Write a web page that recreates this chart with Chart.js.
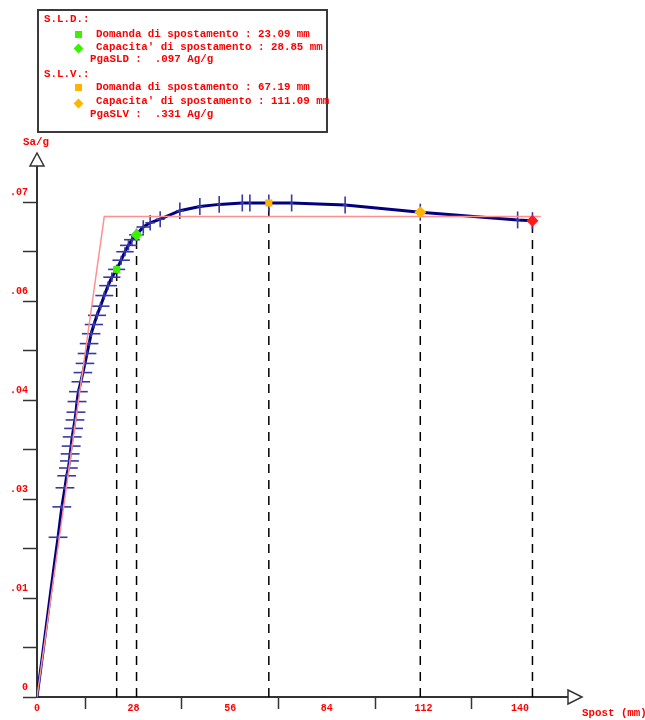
<!DOCTYPE html>
<html lang="it">
<head>
<meta charset="UTF-8">
<title>Curva di capacita'</title>
<script src="https://cdn.jsdelivr.net/npm/chart.js"></script>
<style>
  body { margin: 0; background: #fff; }
  #wrap { position: relative; width: 645px; height: 720px; }
  #wrap canvas { position: absolute; left: 0; top: 0; }
  .t { position: absolute; font: bold 10.8px "Liberation Mono", monospace; color: #f00; line-height: 13px; white-space: pre; z-index: 2; }
  #box { position: absolute; left: 37px; top: 9px; width: 291px; height: 124px; border: 2px solid #3a3a3a; box-sizing: border-box; }
  .sq { position: absolute; width: 7px; height: 7px; }
  .dm { position: absolute; width: 7px; height: 7px; transform: rotate(45deg); }
</style>
</head>
<body>
<div id="wrap">
  <canvas id="pushover" width="645" height="720"></canvas>
  <div id="box"></div>
  <div class="t" style="left:44px;top:13px">S.L.D.:</div>
  <div class="sq" style="left:75px;top:31px;background:#3cf000"></div>
  <div class="t" style="left:96px;top:28px">Domanda di spostamento : 23.09 mm</div>
  <div class="dm" style="left:75px;top:45px;background:#3cf000"></div>
  <div class="t" style="left:96px;top:41px">Capacita' di spostamento : 28.85 mm</div>
  <div class="t" style="left:90px;top:53px">PgaSLD :  .097 Ag/g</div>
  <div class="t" style="left:44px;top:68px">S.L.V.:</div>
  <div class="sq" style="left:75px;top:84px;background:#ffb400"></div>
  <div class="t" style="left:96px;top:81px">Domanda di spostamento : 67.19 mm</div>
  <div class="dm" style="left:75px;top:100px;background:#ffb400"></div>
  <div class="t" style="left:96px;top:95px">Capacita' di spostamento : 111.09 mm</div>
  <div class="t" style="left:90px;top:108px">PgaSLV :  .331 Ag/g</div>
  <div class="t" style="left:23px;top:136px">Sa/g</div>
  <div class="t" style="left:582px;top:707px">Spost (mm)</div>
</div>

<script>
  // curva di capacita' (spostamento mm, Sa/g)
  const curveX = [0, 1.3, 2.6, 3.9, 5.2, 6.1, 7.2, 8.1, 8.6, 9.1, 9.4, 9.6, 9.9, 10.2, 10.6,
    11.0, 11.3, 11.6, 12.0, 12.7, 13.3, 13.9, 14.5, 15.1, 15.7, 16.5, 17.4, 18.4, 19.5, 20.6,
    21.7, 23.09, 24.4, 25.5, 26.5, 27.5, 28.85, 30.8, 32.8, 35.7, 41.4, 47.2, 52.8, 59.5,
    61.7, 67.19, 73.8, 89.3, 111.09, 139.3, 143.6];
  const curveY = [0, 0.0048, 0.0097, 0.0146, 0.0194, 0.0226, 0.0269, 0.0296, 0.0313, 0.0324,
    0.0334, 0.0344, 0.0355, 0.0368, 0.0380, 0.0392, 0.0403, 0.0418, 0.0432, 0.0446, 0.0459,
    0.0472, 0.0486, 0.0500, 0.0514, 0.0527, 0.0540, 0.0553, 0.0568, 0.0582, 0.0594, 0.0605,
    0.0618, 0.0630, 0.0639, 0.0647, 0.0654, 0.0665, 0.0671, 0.0676, 0.0688, 0.0694, 0.0697,
    0.0699, 0.0699, 0.0699, 0.0699, 0.0696, 0.0686, 0.0675, 0.0674];

  // bilineare equivalente
  const bilinX = [0, 19.5, 146];
  const bilinY = [0, 0.068, 0.068];

  // SLD domanda/capacita', SLV domanda/capacita', ultimo punto
  const markX = [23.09, 28.85, 67.19, 111.09, 143.6];
  const markY = [0.0605, 0.0654, 0.0699, 0.0686, 0.0674];
  const markShape = ['rect', 'rectRot', 'rect', 'rectRot', 'rectRot'];
  const markColor = ['#3cf000', '#3cf000', '#ffb400', '#ffb400', '#ff1a1a'];

  const xTicks = [0, 14, 28, 42, 56, 70, 84, 98, 112, 126, 140];
  const xLabels = ['0', '', '28', '', '56', '', '84', '', '112', '', '140'];
  const yTicks = [0, 0.007, 0.014, 0.021, 0.028, 0.035, 0.042, 0.049, 0.056, 0.063, 0.07];
  const yLabels = ['0', '', '.01', '', '.03', '', '.04', '', '.06', '', '.07'];

  const pts = (xs, ys) => xs.map((x, i) => ({ x: x, y: ys[i] }));
  const curve = pts(curveX, curveY);

  // angolo della curva (in pixel) per dimensionare i bracci delle crocette
  function slopeAngle(ctx) {
    const sc = ctx.chart.scales;
    const d = ctx.dataset.data, i = ctx.dataIndex;
    if (!sc.x || !sc.y || d.length < 2) return Math.PI / 4;
    const a = d[Math.max(i - 1, 0)], b = d[Math.min(i + 1, d.length - 1)];
    const dx = sc.x.getPixelForValue(b.x) - sc.x.getPixelForValue(a.x);
    const dy = sc.y.getPixelForValue(a.y) - sc.y.getPixelForValue(b.y);
    return Math.atan2(Math.abs(dy), Math.abs(dx));
  }
  const hasCross = ctx => ctx.raw && ctx.raw.y > 0.021;

  const dashed = markX.map((x, i) => ({
    data: [{ x: x, y: 0 }, { x: x, y: markY[i] }],
    borderColor: '#000',
    borderWidth: 1.5,
    borderDash: [9, 7],
    pointRadius: 0
  }));

  const axisArrows = {
    id: 'axisArrows',
    afterDraw(chart) {
      const { ctx, chartArea: a } = chart;
      ctx.save();
      ctx.strokeStyle = '#333';
      ctx.fillStyle = '#fff';
      ctx.lineWidth = 1.5;
      ctx.beginPath();
      ctx.moveTo(a.left - 7, a.top);
      ctx.lineTo(a.left + 7, a.top);
      ctx.lineTo(a.left, a.top - 13);
      ctx.closePath();
      ctx.fill();
      ctx.stroke();
      ctx.beginPath();
      ctx.moveTo(a.right, a.bottom - 7);
      ctx.lineTo(a.right, a.bottom + 7);
      ctx.lineTo(a.right + 14, a.bottom);
      ctx.closePath();
      ctx.fill();
      ctx.stroke();
      ctx.restore();
    }
  };

  const tickFont = { family: 'Liberation Mono', size: 10, weight: 'bold' };

  new Chart(document.getElementById('pushover'), {
    type: 'line',
    data: {
      datasets: [
        {
          data: pts(markX, markY),
          showLine: false,
          pointStyle: markShape,
          pointBackgroundColor: markColor,
          pointBorderWidth: 0,
          pointRadius: [5, 6, 5, 6, 6]
        },
        {
          data: pts(bilinX, bilinY),
          borderColor: '#ff9090',
          borderWidth: 1.5,
          pointRadius: 0
        },
        {
          data: curve,
          showLine: false,
          pointStyle: 'line',
          pointBorderColor: '#3838a4',
          pointBorderWidth: 1.6,
          pointRadius: ctx => hasCross(ctx) ? 1.5 + 8 * Math.sin(slopeAngle(ctx)) : 0
        },
        {
          data: curve,
          showLine: false,
          pointStyle: 'line',
          pointRotation: 90,
          pointBorderColor: '#3838a4',
          pointBorderWidth: 1.6,
          pointRadius: ctx => hasCross(ctx) ? 1.5 + 7 * Math.cos(slopeAngle(ctx)) : 0
        },
        {
          data: curve,
          borderColor: '#000080',
          borderWidth: 3,
          pointRadius: 0
        },
        ...dashed
      ]
    },
    options: {
      responsive: false,
      animation: false,
      layout: { padding: { top: 166, right: 77, left: 0, bottom: 0 } },
      plugins: { legend: { display: false }, tooltip: { enabled: false } },
      elements: { line: { tension: 0 } },
      scales: {
        x: {
          type: 'linear',
          min: 0,
          max: 153.9,
          afterBuildTicks: s => { s.ticks = xTicks.map(v => ({ value: v })); },
          afterFit: s => { s.height = 23; },
          border: { color: '#333', width: 2 },
          grid: {
            drawOnChartArea: false,
            tickLength: 12,
            tickWidth: 1.5,
            tickColor: ctx => xLabels[ctx.index] ? 'rgba(0,0,0,0)' : '#333'
          },
          ticks: {
            autoSkip: false,
            maxRotation: 0,
            padding: -7,
            color: '#f00',
            font: tickFont,
            callback: (v, i) => xLabels[i]
          }
        },
        y: {
          min: 0,
          max: 0.07513,
          afterBuildTicks: s => { s.ticks = yTicks.map(v => ({ value: v })); },
          afterFit: s => { s.width = 37; },
          border: { color: '#333', width: 2 },
          grid: {
            drawOnChartArea: false,
            tickLength: 14,
            tickWidth: 1.5,
            tickColor: '#333'
          },
          ticks: {
            autoSkip: false,
            padding: -5,
            labelOffset: -10,
            color: '#f00',
            font: tickFont,
            callback: (v, i) => yLabels[i]
          }
        }
      }
    },
    plugins: [axisArrows]
  });
</script>
</body>
</html>
